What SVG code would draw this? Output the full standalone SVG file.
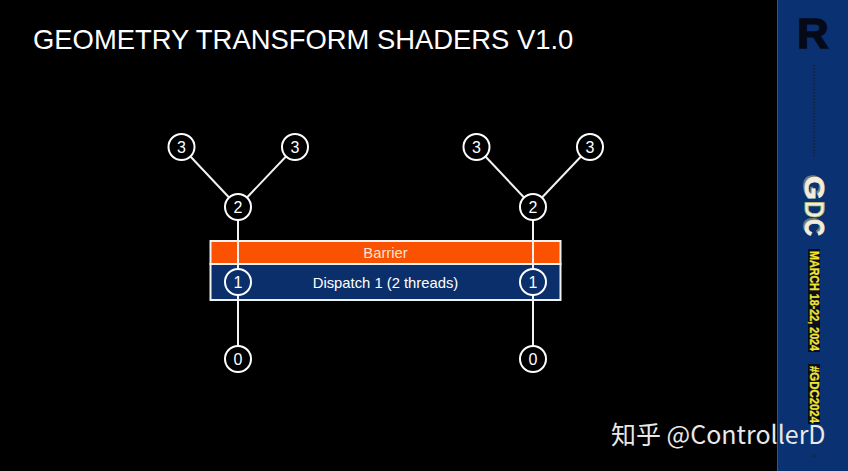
<svg xmlns="http://www.w3.org/2000/svg" width="848" height="471" viewBox="0 0 848 471">
<style>
text{font-family:"Liberation Sans",Arial,sans-serif;fill:#fff}
.n circle{fill:#000;stroke:#fff;stroke-width:2}
.n text{font-size:16px;text-anchor:middle}
.c{font-size:14.800px;text-anchor:middle}
.l line{stroke:#f2f2f2;stroke-width:2}
.d circle{fill:#0b2f6b}
.y{font-weight:bold;font-size:13px;fill:#f5e533;stroke:#f5e533;stroke-width:.3}
.g{font-weight:bold;font-size:28px;fill:#f1eedb;stroke:#f1eedb;stroke-width:.8}
.s{font-weight:bold;font-size:28px;fill:#77787a}
</style>
<rect width="848" height="471" fill="#000"/>
<g id="sidebar">
<rect x="777.500" y="0" width="70.500" height="471" fill="#0a3272"/>
<rect x="777" y="0" width="1" height="471" fill="#2a5596"/>
<text transform="translate(813,48) scale(1.05,1)" style="fill:#060a18;stroke:#060a18;stroke-width:1.400;font-weight:bold;font-size:42px" text-anchor="middle">R</text>
<line x1="814" y1="65" x2="814" y2="158" stroke="#12284f" stroke-width="2.500" stroke-dasharray="2 1"/>
<text class="s" transform="translate(803,174) rotate(90)" textLength="24" lengthAdjust="spacingAndGlyphs">G</text>
<text class="s" transform="translate(803,217) rotate(90)" textLength="17" lengthAdjust="spacingAndGlyphs">C</text>
<text class="g" transform="translate(805,176) rotate(90)" textLength="24" lengthAdjust="spacingAndGlyphs">G</text>
<text class="g" transform="translate(805,201) rotate(90)" textLength="17" lengthAdjust="spacingAndGlyphs" style="fill:#f1eedb;stroke:#b9bd6a">D</text>
<text class="g" transform="translate(805,219) rotate(90)" textLength="17" lengthAdjust="spacingAndGlyphs">C</text>
<rect x="808" y="249" width="12" height="103" fill="#0a0f1c"/>
<rect x="808" y="364" width="12" height="60" fill="#0a0f1c"/>
<text class="y" transform="translate(809.500,251) rotate(90)" textLength="100" lengthAdjust="spacingAndGlyphs">MARCH 18-22, 2024</text>
<text class="y" transform="translate(809.500,366) rotate(90)" textLength="57" lengthAdjust="spacingAndGlyphs">#GDC2024</text>
<text x="814" y="458" text-anchor="middle" style="fill:#10254f;font-size:6px">40</text>
</g>
<text id="title" x="33" y="49" font-size="27.400">GEOMETRY TRANSFORM SHADERS V1.0</text>
<g id="barrier"><rect x="210.500" y="241" width="350" height="23" fill="#fa5200" stroke="#f2f2f2" stroke-width="2"/><text class="c" x="385.500" y="258" style="fill:#fbe3d6">Barrier</text></g>
<g id="dispatch"><rect x="210.500" y="264" width="350" height="36" fill="#0b2f6b" stroke="#f2f2f2" stroke-width="2"/><text class="c" x="385.500" y="288">Dispatch 1 (2 threads)</text></g>
<g id="connectors" class="l">
<line x1="181.500" y1="147" x2="238" y2="207"/><line x1="295" y1="147" x2="238" y2="207"/><line x1="238" y1="207" x2="238" y2="359"/>
<line x1="476.500" y1="147" x2="533" y2="207"/><line x1="590" y1="147" x2="533" y2="207"/><line x1="533" y1="207" x2="533" y2="359"/>
</g>
<g id="n3a" class="n"><circle cx="181.500" cy="147" r="13"/><text x="181.500" y="152.500">3</text></g>
<g id="n3b" class="n"><circle cx="295" cy="147" r="13"/><text x="295" y="152.500">3</text></g>
<g id="n2a" class="n"><circle cx="238" cy="207" r="13"/><text x="238" y="212.500">2</text></g>
<g id="n1a" class="n d"><circle cx="238" cy="282" r="13"/><text x="238" y="287.500">1</text></g>
<g id="n0a" class="n"><circle cx="238" cy="359" r="13"/><text x="238" y="364.500">0</text></g>
<g id="n3c" class="n"><circle cx="476.500" cy="147" r="13"/><text x="476.500" y="152.500">3</text></g>
<g id="n3d" class="n"><circle cx="590" cy="147" r="13"/><text x="590" y="152.500">3</text></g>
<g id="n2b" class="n"><circle cx="533" cy="207" r="13"/><text x="533" y="212.500">2</text></g>
<g id="n1b" class="n d"><circle cx="533" cy="282" r="13"/><text x="533" y="287.500">1</text></g>
<g id="n0b" class="n"><circle cx="533" cy="359" r="13"/><text x="533" y="364.500">0</text></g>
<text id="watermark" x="611" y="444" font-size="25" style="font-family:'Noto Sans CJK SC','Liberation Sans',sans-serif;fill:#e8e8e8">知乎 @ControllerD</text>
</svg>
